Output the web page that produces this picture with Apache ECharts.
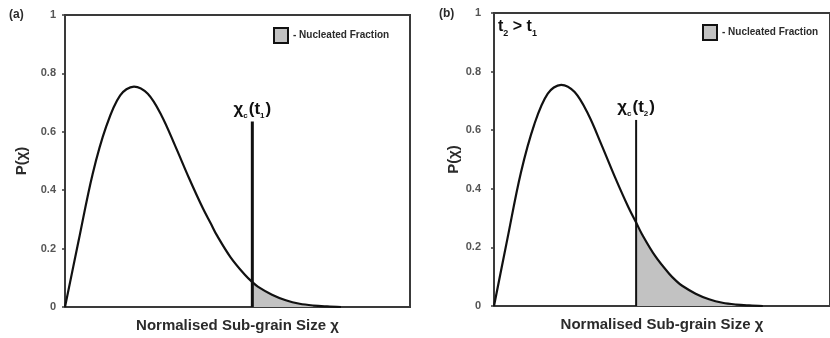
<!DOCTYPE html>
<html>
<head>
<meta charset="utf-8">
<script src="https://cdn.jsdelivr.net/npm/echarts@6/dist/echarts.min.js"></script>
<style>
  html, body { margin: 0; padding: 0; background: #fff; }
  #chart { width: 830px; height: 338px; }
</style>
</head>
<body>
<div id="chart"></div>
<script>
// Normalised sub-grain size χ (plot width spans 0..10 units)
const sizeChi = [0, 0.4, 0.8, 1.2, 1.6, 2.0, 2.4, 2.8, 3.2, 3.6, 4.0, 4.23, 4.4, 4.8, 5.2, 5.43, 5.6, 6.0, 6.4, 6.8, 7.2, 7.6, 8.0];
// Size distribution P(χ)
const probP   = [0, 0.23, 0.455, 0.62, 0.725, 0.755, 0.73, 0.655, 0.55, 0.44, 0.337, 0.285, 0.246, 0.17, 0.112, 0.085, 0.069, 0.042, 0.023, 0.011, 0.005, 0.002, 0];
// Critical nucleation size at t1 (panel a) and t2 (panel b)
const critChi = [5.43, 4.23];
const critMarkerTop = [0.635, 0.635];
// Value-axis ticks
const yTicks = [0, 0.2, 0.4, 0.6, 0.8, 1];
const panelTags = ['(a)', '(b)'];
const critSub = ['1', '2'];
const legendName = '- Nucleated Fraction';
const xTitle = 'Normalised Sub-grain Size χ';
const yTitle = 'P(χ)';

const FONT = '"Liberation Sans", Arial, sans-serif';
const INK = '#111';
const FRAME = '#3a3a3a';
const SHADE = '#c2c2c2';
const SMOOTH = 0.35;

const curve = sizeChi.map((x, i) => [x, probP[i]]);

const panels = [
  { left: 65, top: 15, lineW: 3, labelMargin: 9, nameGap: 36, legendLeft: 273, legendTop: 27 },
  { left: 494, top: 13, lineW: 2, labelMargin: 13, nameGap: 32, legendLeft: 702, legendTop: 24 }
];

const grid = [], xAxis = [], yAxis = [], series = [], legend = [];

panels.forEach((p, i) => {
  grid.push({
    left: p.left, top: p.top, width: 345, height: 293,
    show: true, borderColor: FRAME, borderWidth: 2, backgroundColor: '#fff'
  });
  xAxis.push({
    gridIndex: i, type: 'value', min: 0, max: 10,
    axisLine: { show: true, lineStyle: { color: FRAME, width: 2 } },
    axisTick: { show: false }, axisLabel: { show: false }, splitLine: { show: false },
    name: xTitle, nameLocation: 'middle', nameGap: 11,
    nameTextStyle: { fontFamily: FONT, fontSize: 15, fontWeight: 'bold', color: '#2b2b2b', verticalAlign: 'top' }
  });
  yAxis.push({
    gridIndex: i, type: 'value',
    min: yTicks[0], max: yTicks[yTicks.length - 1], interval: yTicks[1] - yTicks[0],
    axisLine: { show: true, lineStyle: { color: FRAME, width: 2 } },
    axisTick: { show: true, length: 3, lineStyle: { color: FRAME, width: 1.5 } },
    axisLabel: { margin: p.labelMargin, fontFamily: FONT, fontSize: 11, fontWeight: 'bold', color: '#555' },
    splitLine: { show: false },
    name: yTitle, nameLocation: 'middle', nameRotate: 90, nameGap: p.nameGap,
    nameTextStyle: { fontFamily: FONT, fontSize: 15, fontWeight: 'bold', color: '#2b2b2b' }
  });

  // Shaded tail beyond the critical size (nucleated fraction)
  series.push({
    name: legendName, type: 'line', xAxisIndex: i, yAxisIndex: i,
    data: curve.filter(pt => pt[0] >= critChi[i]), smooth: SMOOTH, symbol: 'none',
    lineStyle: { width: 0 }, itemStyle: { color: SHADE },
    areaStyle: { color: SHADE, opacity: 1 }, z: 2, silent: true
  });
  // Distribution curve
  series.push({
    type: 'line', xAxisIndex: i, yAxisIndex: i,
    data: curve, smooth: SMOOTH, symbol: 'none',
    lineStyle: { color: INK, width: 2.2 }, z: 4, silent: true
  });
  // Critical size marker
  series.push({
    type: 'line', xAxisIndex: i, yAxisIndex: i,
    data: [
      [critChi[i], 0],
      {
        value: [critChi[i], critMarkerTop[i]],
        label: {
          show: true, position: 'top', distance: 4,
          formatter: '{g|χ}{s|c}{g|(t}{s|' + critSub[i] + '}{g|)}',
          rich: {
            g: { fontFamily: FONT, fontSize: 17, fontWeight: 'bold', color: INK, lineHeight: 20, verticalAlign: 'bottom' },
            s: { fontFamily: FONT, fontSize: 8, fontWeight: 'bold', color: INK, lineHeight: 20, verticalAlign: 'bottom', padding: [0, 1, -2, 0] }
          }
        }
      }
    ],
    symbol: 'circle', symbolSize: 0, showSymbol: true,
    lineStyle: { color: INK, width: p.lineW }, itemStyle: { color: INK }, z: 5, silent: true
  });

  legend.push({
    left: p.legendLeft, top: p.legendTop, padding: 0, selectedMode: false,
    itemWidth: 14, itemHeight: 15,
    data: [{ name: legendName, icon: 'rect', itemStyle: { color: SHADE, borderColor: INK, borderWidth: 2 } }],
    textStyle: { fontFamily: FONT, fontSize: 10, fontWeight: 'bold', color: '#2b2b2b' }
  });
});

const chart = echarts.init(document.getElementById('chart'), null, { renderer: 'canvas' });
chart.setOption({
  animation: false,
  backgroundColor: '#fff',
  grid, xAxis, yAxis, series, legend,
  graphic: [
    { type: 'text', left: 9, top: 9, style: { text: panelTags[0], font: 'bold 12px ' + FONT, fill: '#2b2b2b' } },
    { type: 'text', left: 439, top: 8, style: { text: panelTags[1], font: 'bold 12px ' + FONT, fill: '#2b2b2b' } },
    {
      type: 'text', left: 498, top: 19,
      style: {
        text: '{t|t}{s|2}{t| > t}{s|1}',
        rich: {
          t: { fontFamily: FONT, fontSize: 16, fontWeight: 'bold', fill: INK, lineHeight: 18, verticalAlign: 'bottom' },
          s: { fontFamily: FONT, fontSize: 9, fontWeight: 'bold', fill: INK, lineHeight: 18, verticalAlign: 'bottom', padding: [0, 0, -3, 0] }
        }
      }
    }
  ]
});
</script>
</body>
</html>
